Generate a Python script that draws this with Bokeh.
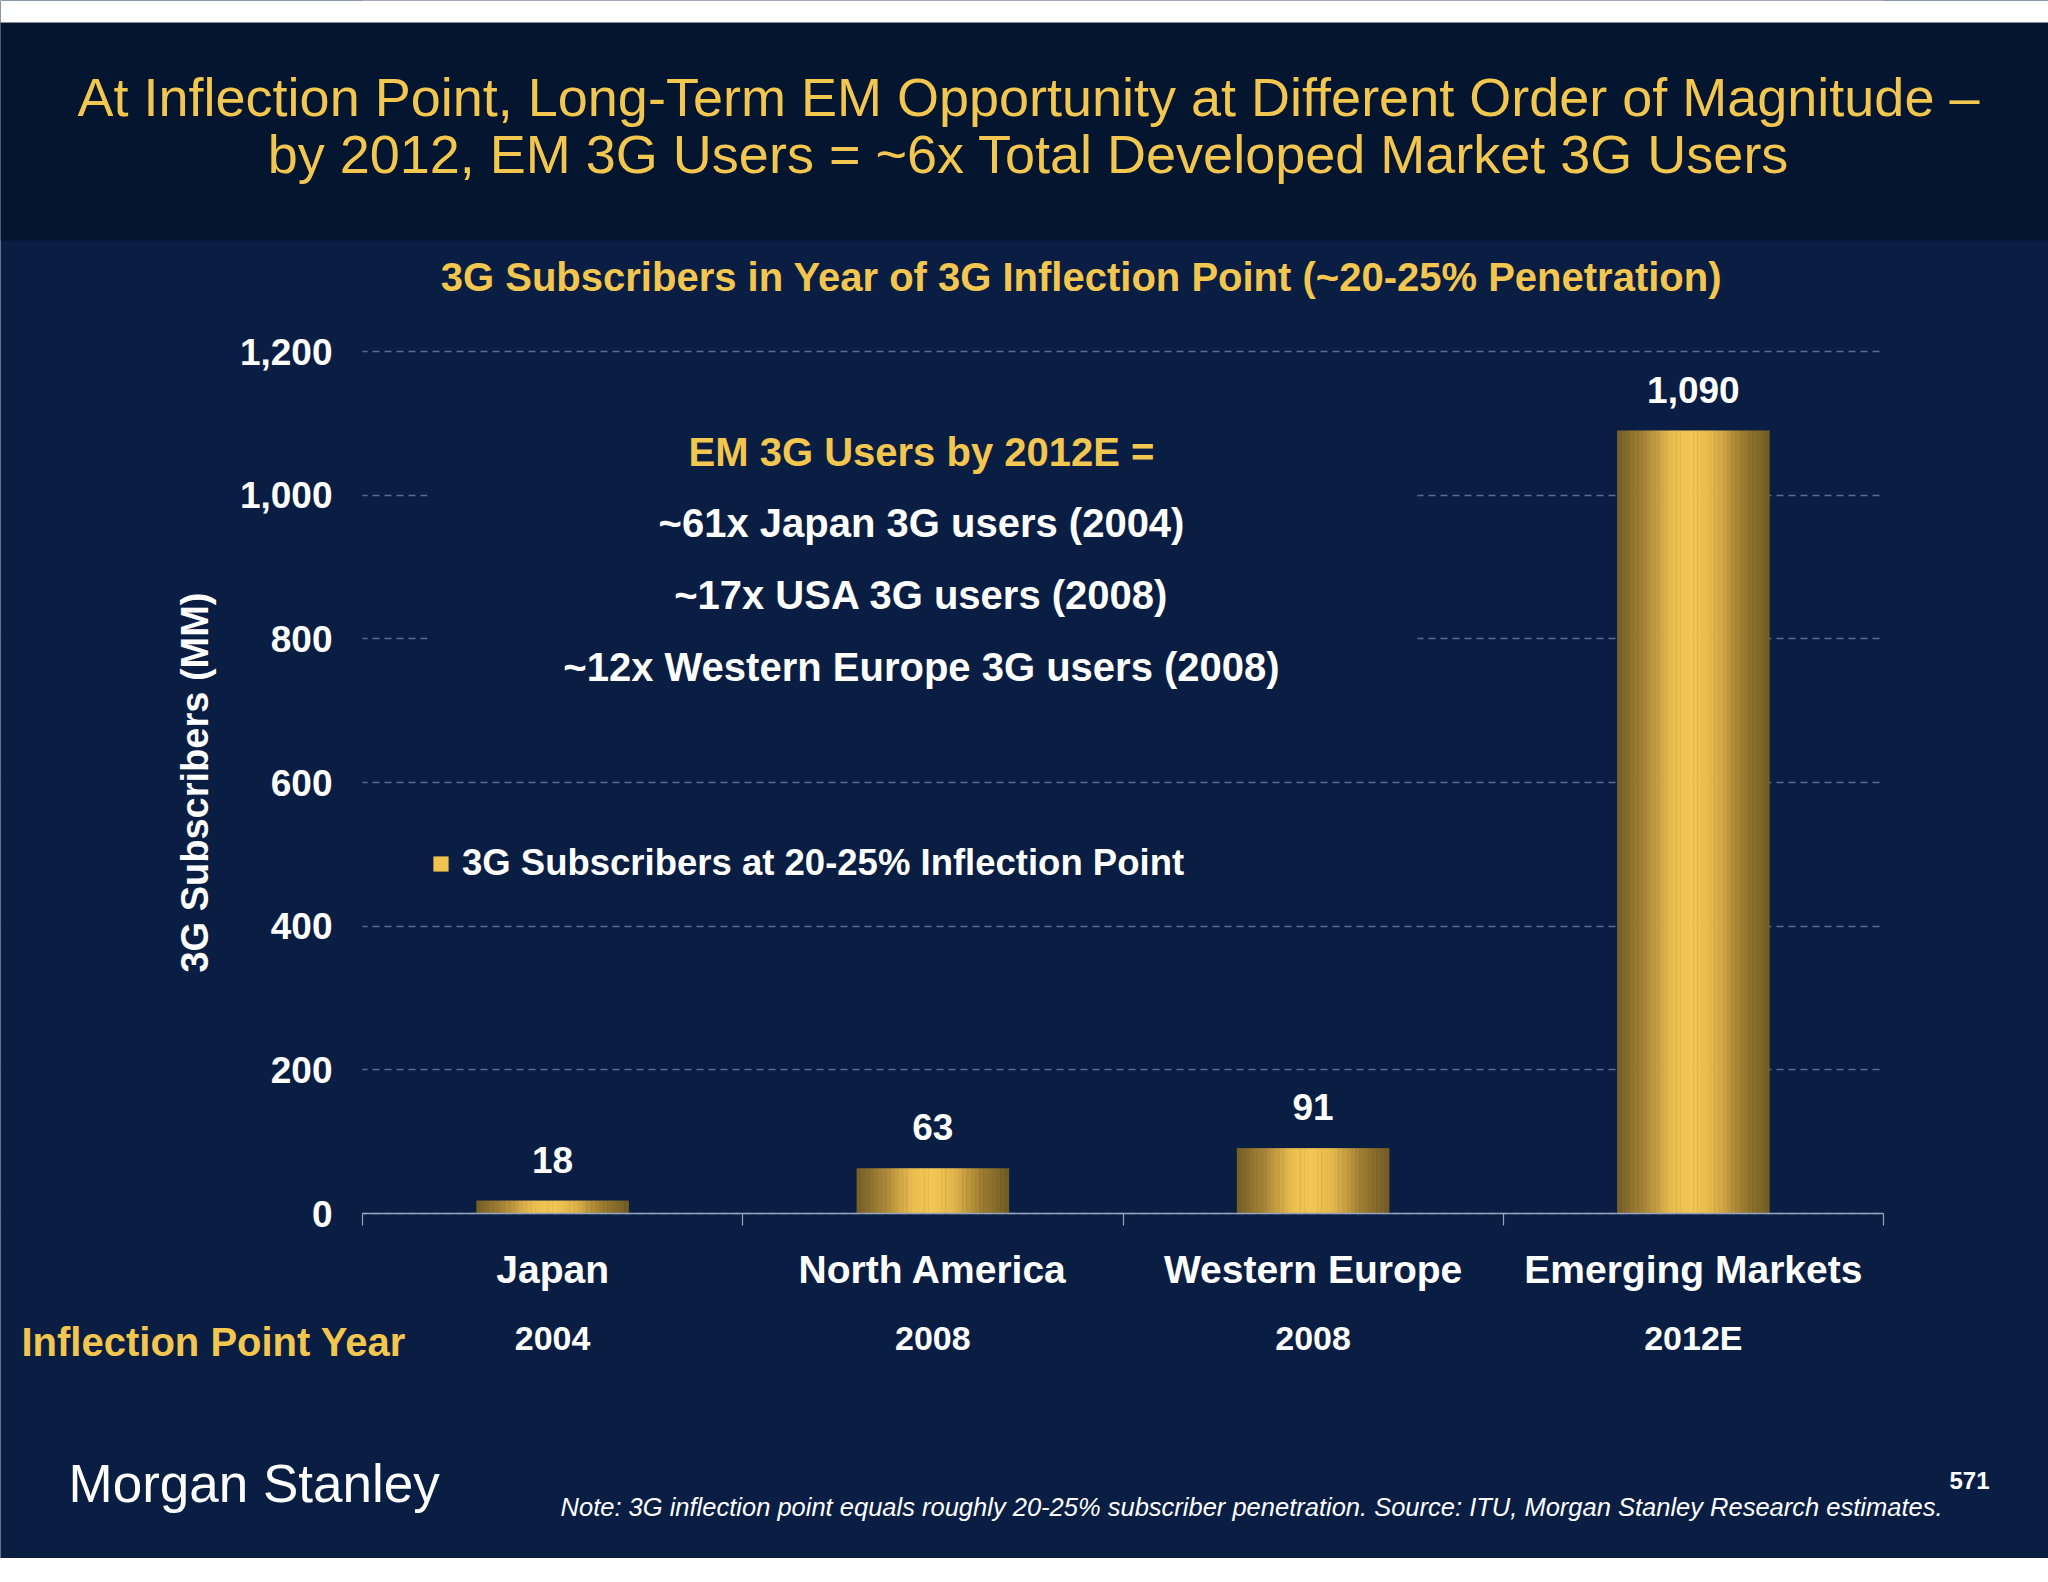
from bokeh.plotting import figure
from bokeh.models import (ColumnDataSource, Range1d, FixedTicker, LinearAxis,
                          NumeralTickFormatter, Label, LabelSet, BoxAnnotation,
                          Legend, LegendItem, Grid)
from bokeh.transform import dodge
from bokeh.core.properties import value
from bokeh.embed import file_html
from bokeh.resources import INLINE

# ---------------- data ----------------
regions = ["Japan", "North America", "Western Europe", "Emerging Markets"]
subscribers = [18, 63, 91, 1090]
inflection_years = ["2004", "2008", "2008", "2012E"]
y_ticks = [0, 200, 400, 600, 800, 1000, 1200]

title_lines = ["At Inflection Point, Long-Term EM Opportunity at Different Order of Magnitude \u2013",
               "by 2012, EM 3G Users = ~6x Total Developed Market 3G Users"]
subtitle = "3G Subscribers in Year of 3G Inflection Point (~20-25% Penetration)"
callout_head = "EM 3G Users by 2012E ="
callout_lines = ["~61x Japan 3G users (2004)",
                 "~17x USA 3G users (2008)",
                 "~12x Western Europe 3G users (2008)"]
legend_text = "3G Subscribers at 20-25% Inflection Point"
y_label = "3G Subscribers (MM)"
year_row_label = "Inflection Point Year"
note = "Note: 3G inflection point equals roughly 20-25% subscriber penetration. Source: ITU, Morgan Stanley Research estimates."
brand = "Morgan Stanley"
page_no = "571"

# ---------------- style ----------------
FONT = "Liberation Sans"
BG = "#0a1e44"
HDR = "#03152f"
GOLD = "#f3c64f"
AXC = "#97a3ba"
GRID = "#5a6b8e"

# page geometry (page pixel coordinates); the frame covers the whole canvas
CX0, CY0, CX1, CY1 = 0, 0, 2048, 1558
PL, PR, PT, PB = 362, 1883, 351, 1213     # where the value axis 0..1200 and categories sit
n = len(regions)
YMAX = y_ticks[-1]
kx = (PR - PL) / n
ky = (PB - PT) / YMAX
x_lo, x_hi = -(PL - CX0) / kx, n + (CX1 - PR) / kx
y_lo, y_hi = -(CY1 - PB) / ky, YMAX + (PT - CY0) / ky


def sx(X):
    return X - CX0


def sy(Y):
    return CY1 - Y


xpos = [i + 0.5 for i in range(n)]

p = figure(width=CX1 - CX0, height=CY1 - CY0, x_range=Range1d(x_lo, x_hi), y_range=Range1d(y_lo, y_hi),
           output_backend="svg", toolbar_location=None, x_axis_location=None, y_axis_location=None,
           title=None, min_border=0, background_fill_color=BG, border_fill_color=BG,
           outline_line_color=None)
p.center = [r for r in p.center if not isinstance(r, Grid)]

# ---- grid (masked outside the category span) ----
ticker = FixedTicker(ticks=y_ticks)
p.add_layout(Grid(dimension=1, ticker=ticker, grid_line_color=GRID, grid_line_dash="7 5",
                  grid_line_width=1.3))
p.add_layout(BoxAnnotation(right=0, fill_color=BG, fill_alpha=1, line_color=None, level="underlay"))
p.add_layout(BoxAnnotation(left=n, fill_color=BG, fill_alpha=1, line_color=None, level="underlay"))
# callout background (hides gridlines behind text block)
p.add_layout(BoxAnnotation(left=sx(427), right=sx(1417), top=sy(420), bottom=sy(705),
                           left_units="screen", right_units="screen", top_units="screen",
                           bottom_units="screen", fill_color=BG, fill_alpha=1, line_color=None,
                           level="underlay"))
# header band and white strip above it
p.add_layout(BoxAnnotation(bottom=sy(240), top=sy(22), bottom_units="screen", top_units="screen",
                           fill_color=HDR, fill_alpha=1, line_color=None, level="underlay"))
p.add_layout(BoxAnnotation(bottom=sy(22), bottom_units="screen", fill_color="white", fill_alpha=1,
                           line_color=None, level="underlay"))

# ---- axes drawn at fixed data locations ----
yaxis = LinearAxis(ticker=ticker, formatter=NumeralTickFormatter(format="0,0"), fixed_location=0,
                   bounds=(0, YMAX),
                   axis_label=y_label, axis_label_text_font=FONT, axis_label_text_font_size="38px",
                   axis_label_text_font_style="bold", axis_label_text_color="white",
                   axis_label_standoff=21,
                   major_label_text_font=FONT, major_label_text_font_size="37px",
                   major_label_text_font_style="bold", major_label_text_color="white",
                   major_label_standoff=30, axis_line_color=None, major_tick_line_color=None,
                   major_tick_out=0, major_tick_in=0, minor_tick_out=0, minor_tick_in=0,
                   minor_tick_line_color=None)
p.add_layout(yaxis, "left")

cat_axis = LinearAxis(ticker=FixedTicker(ticks=xpos, minor_ticks=list(range(n + 1))),
                      major_label_overrides=dict(zip(xpos, regions)), fixed_location=0, bounds=(0, n),
                      axis_line_color=AXC, axis_line_width=1.5,
                      major_tick_line_color=None, major_tick_out=0, major_tick_in=0,
                      minor_tick_line_color=AXC, minor_tick_line_width=1.2, minor_tick_out=12,
                      minor_tick_in=0,
                      major_label_text_font=FONT, major_label_text_font_size="39px",
                      major_label_text_font_style="bold", major_label_text_color="white",
                      major_label_standoff=22)
p.add_layout(cat_axis, "below")

year_axis = LinearAxis(ticker=FixedTicker(ticks=xpos), major_label_overrides=dict(zip(xpos, inflection_years)),
                       fixed_location=0, bounds=(0, n),
                       axis_line_color=None, major_tick_line_color=None, minor_tick_line_color=None,
                       major_tick_out=0, major_tick_in=0, minor_tick_out=0, minor_tick_in=0,
                       major_label_text_font=FONT, major_label_text_font_size="34px",
                       major_label_text_font_style="bold", major_label_text_color="white",
                       major_label_standoff=105)
p.add_layout(year_axis, "below")

# ---- gradient bars: thin vertical slices shaded like a cylinder ----
src = ColumnDataSource(dict(x=xpos, region=regions, subs=subscribers,
                            lbl=[f"{v:,}" for v in subscribers]))
stops = [(0.0, (116, 93, 38)), (0.18, (168, 133, 54)), (0.36, (234, 189, 80)), (0.5, (243, 198, 84)),
         (0.64, (226, 181, 75)), (0.82, (158, 125, 49)), (1.0, (112, 90, 36))]


def shade(t):
    for (t0, c0), (t1, c1) in zip(stops[:-1], stops[1:]):
        if t0 <= t <= t1:
            f = (t - t0) / (t1 - t0)
            return "#%02x%02x%02x" % tuple(int(round(a + (b - a) * f)) for a, b in zip(c0, c1))
    return "#%02x%02x%02x" % stops[-1][1]


BAR_W = 0.4
N = 36
sw = BAR_W / N
slices = []
for i in range(N):
    off = -BAR_W / 2 + (i + 0.5) * sw
    r = p.vbar(x=dodge("x", off), top="subs", bottom=0, width=sw * 1.1,
               source=src, fill_color=shade((i + 0.5) / N), line_color=None)
    slices.append(r)

p.add_layout(LabelSet(x="x", y="subs", text="lbl", source=src, y_offset=41,
                      text_align="center", text_baseline="middle", text_font=value(FONT),
                      text_font_size="37px", text_font_style="bold", text_color="white"))

legend = Legend(items=[LegendItem(label=legend_text, renderers=[slices[N // 2 - 3]])],
                location=(sx(431), sy(884)), padding=0, margin=0, glyph_width=19, glyph_height=19,
                label_standoff=12, label_text_font=FONT, label_text_font_size="36.5px",
                label_text_font_style="bold", label_text_color="white",
                background_fill_alpha=0, border_line_color=None)
p.add_layout(legend)


# ---- texts ----
def add_label(txt, X, Y, size, color="white", style="bold", align="center", font=FONT):
    p.add_layout(Label(x=sx(X), y=sy(Y), x_units="screen", y_units="screen", text=txt,
                       text_align=align, text_baseline="middle", text_font=font,
                       text_font_size=size, text_font_style=style, text_color=color))


add_label(title_lines[0], 1028, 96, "54px", GOLD, "normal")
add_label(title_lines[1], 1028, 153, "54px", GOLD, "normal")
add_label(subtitle, 1081, 276, "40px", GOLD)
add_label(callout_head, 921, 451, "40px", GOLD)
for txt, yy in zip(callout_lines, [522, 594, 666]):
    add_label(txt, 921, yy, "40px")
add_label(year_row_label, 21, 1341, "40px", GOLD, align="left")
add_label(brand, 68, 1483, "53px", style="normal", align="left")
add_label(note, 1942, 1506, "25.5px", style="italic", align="right")
add_label(page_no, 1969, 1480, "24px")

open("out.html", "w").write(file_html(p, INLINE))
